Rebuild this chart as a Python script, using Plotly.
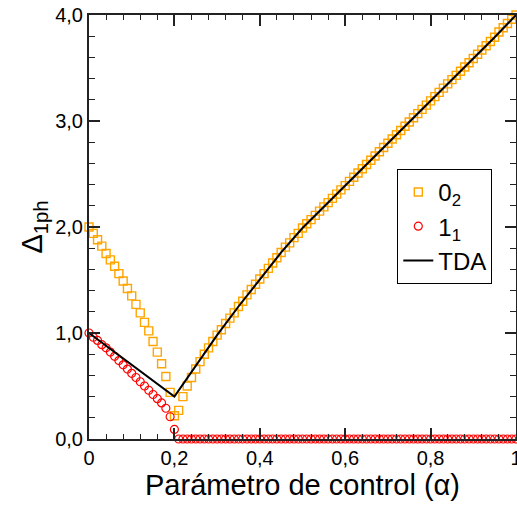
import plotly.graph_objects as go

# Control parameter grid (step 0.01)
alpha = [round(i * 0.01, 2) for i in range(101)]

# 0_2 excitation energy
delta_02 = [
    2.00, 1.94, 1.88, 1.82, 1.75, 1.69, 1.63, 1.56, 1.49, 1.42,
    1.35, 1.27, 1.19, 1.10, 1.02, 0.92, 0.82, 0.71, 0.59, 0.44,
    0.22, 0.27, 0.40, 0.50, 0.58, 0.66, 0.73, 0.80, 0.86, 0.92,
    0.98, 1.03, 1.09, 1.14, 1.19, 1.25, 1.30, 1.36, 1.41, 1.46,
    1.51, 1.56, 1.61, 1.66, 1.71, 1.76, 1.81, 1.85, 1.90, 1.94,
    1.99, 2.03, 2.07, 2.11, 2.15, 2.19, 2.23, 2.27, 2.31, 2.35,
    2.39, 2.43, 2.47, 2.51, 2.55, 2.59, 2.63, 2.67, 2.71, 2.75,
    2.79, 2.83, 2.87, 2.91, 2.95, 2.99, 3.03, 3.07, 3.11, 3.15,
    3.19, 3.23, 3.27, 3.31, 3.35, 3.39, 3.43, 3.47, 3.51, 3.55,
    3.59, 3.63, 3.67, 3.71, 3.75, 3.79, 3.84, 3.88, 3.92, 3.96,
    4.00,
]

# 1_1 excitation energy
delta_11 = [
    1.00, 0.96, 0.93, 0.89, 0.86, 0.82, 0.78, 0.74, 0.70, 0.66,
    0.62, 0.58, 0.54, 0.50, 0.46, 0.42, 0.38, 0.34, 0.29, 0.21,
    0.09,
] + [0.0] * 80

# Tamm-Dancoff approximation
tda_alpha = [0.0, 0.05, 0.10, 0.15, 0.20, 0.25, 0.30, 0.35, 0.40, 0.45,
             0.50, 0.55, 0.60, 0.65, 0.70, 0.75, 0.80, 0.85, 0.90, 0.95, 1.00]
tda_delta = [1.00, 0.85, 0.70, 0.55, 0.40, 0.69, 0.98, 1.25, 1.51, 1.76,
             1.99, 2.19, 2.39, 2.59, 2.79, 2.99, 3.19, 3.39, 3.59, 3.79, 4.00]

x_ticks = [0, 0.2, 0.4, 0.6, 0.8, 1.0]
x_ticklabels = ["0", "0,2", "0,4", "0,6", "0,8", "1"]
y_ticks = [0, 1, 2, 3, 4]
y_ticklabels = ["0,0", "1,0", "2,0", "3,0", "4,0"]

FONT = "Liberation Sans, Arial, sans-serif"
AXIS_COLOR = "#222222"

fig = go.Figure()

fig.add_trace(go.Scatter(
    x=alpha, y=delta_02, mode="markers", name="0<sub>2</sub>",
    marker=dict(symbol="square-open", size=8, color="#FFA500",
                line=dict(width=1.4, color="#FFA500")),
    cliponaxis=False,
))
fig.add_trace(go.Scatter(
    x=alpha, y=delta_11, mode="markers", name="1<sub>1</sub>",
    marker=dict(symbol="circle-open", size=8, color="#FF0000",
                line=dict(width=1.2, color="#FF0000")),
    cliponaxis=False,
))
fig.add_trace(go.Scatter(
    x=tda_alpha, y=tda_delta, mode="lines", name="TDA",
    line=dict(color="black", width=2),
    cliponaxis=False,
))

axis_common = dict(
    showline=True, linecolor=AXIS_COLOR, linewidth=2, mirror="ticks",
    ticks="inside", ticklen=11, tickwidth=1.5, tickcolor=AXIS_COLOR,
    showgrid=False, zeroline=False, ticklabeloverflow="allow",
    automargin=False,
    tickfont=dict(family=FONT, size=20, color="black"),
)

fig.update_xaxes(
    range=[0, 1], tickvals=x_ticks, ticktext=x_ticklabels,
    minor=dict(ticks="inside", ticklen=5, tickwidth=1.2, tickcolor=AXIS_COLOR, dtick=0.04),
    title=dict(text="Parámetro de control (α)", font=dict(family=FONT, size=29, color="black"),
               standoff=6),
    **axis_common,
)
fig.update_yaxes(
    range=[0, 4], tickvals=y_ticks, ticktext=y_ticklabels,
    minor=dict(ticks="inside", ticklen=6, tickwidth=1.2, tickcolor=AXIS_COLOR, dtick=0.2),
    title=dict(text="Δ<sub>1ph</sub>", font=dict(family=FONT, size=29, color="black"),
               standoff=4),
    **axis_common,
)

fig.update_layout(
    width=517, height=505,
    margin=dict(l=89, r=1, t=15, b=66, autoexpand=False),
    paper_bgcolor="white", plot_bgcolor="white",
    font=dict(family=FONT, color="black"),
    legend=dict(
        x=0.722, y=0.637, xanchor="left", yanchor="top",
        bordercolor="black", borderwidth=1, bgcolor="white",
        font=dict(family=FONT, size=24, color="black"),
        itemwidth=30, tracegroupgap=0,
    ),
)

fig.write_html("out.html")
